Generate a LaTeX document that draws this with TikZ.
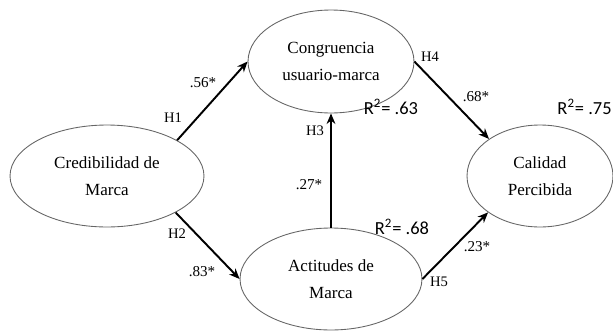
\documentclass[tikz,border=0pt]{standalone}
\usepackage{fontspec}
\setmainfont{Liberation Serif}
\newfontfamily\calib{Carlito}
\usepackage{tikz}
\usetikzlibrary{shapes.geometric, arrows.meta, positioning}
\tikzset{
  latent/.style={ellipse, draw=black!60, line width=0.5pt, inner sep=0pt,
                 align=center, font=\fontsize{9.7}{15}\selectfont},
  edgeP/.style={draw=black, line width=1.1pt,
                -{Stealth[length=6pt, width=5pt]}},
  hyp/.style={inner sep=0pt, font=\fontsize{8.3}{9}\selectfont},
  coef/.style={inner sep=0pt, font=\fontsize{8.6}{9}\selectfont},
  rsq/.style={inner sep=0pt, font=\calib\fontsize{10.5}{12}\selectfont},
}
\begin{document}
\begin{tikzpicture}[x=0.02cm, y=-0.02cm]
    \useasboundingbox (0,0) rectangle (613,332);
    % constructs
    \node[latent, minimum width=3.88cm, minimum height=2.04cm] (cred) at (107,176)
      {Credibilidad de\\Marca};
    \node[latent, minimum width=3.32cm, minimum height=2.06cm] (cong) at (331,61.5)
      {Congruencia\\usuario-marca};
    \node[latent, minimum width=3.64cm, minimum height=2.04cm] (act) at (331,279)
      {Actitudes de\\Marca};
    \node[latent, minimum width=2.92cm, minimum height=2.04cm] (cal) at (540,176)
      {Calidad\\Percibida};
    % paths
    \draw[edgeP] (cred.27) -- (cong.west);
    \draw[edgeP] (cred.-28) -- (act.west);
    \draw[edgeP] (act.north) -- (cong.south);
    \draw[edgeP] (cong.east) -- (cal.144);
    \draw[edgeP] (act.east) -- (cal.215);
    % hypotheses and coefficients
    \foreach \n/\x/\y/\t in {h1/173/118/H1, h2/177/234/H2, h3/315/131/H3,
                             h4/430/57/H4, h5/439/282/H5}{
      \node[hyp] (\n) at (\x,\y) {\t};
    }
    \foreach \n/\x/\y/\t in {c1/203/83/.56*, c2/202/272/.83*, c3/309/185/.27*,
                             c4/476/97/.68*, c5/477/247/.23*}{
      \node[coef] (\n) at (\x,\y) {\t};
    }
    % explained variance
    \node[rsq] (r2cong) at (391,107) {R\textsuperscript{2}= .63};
    \node[rsq] (r2act) at (402,227) {R\textsuperscript{2}= .68};
    \node[rsq, anchor=east] (r2cal) at (612,107) {R\textsuperscript{2}= .75};
\end{tikzpicture}
\end{document}
